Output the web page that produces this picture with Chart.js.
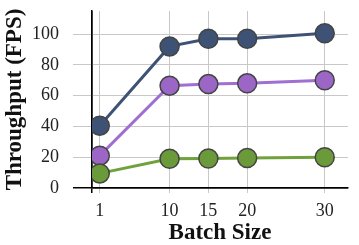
<!DOCTYPE html>
<html>
<head>
<meta charset="utf-8">
<script src="https://cdn.jsdelivr.net/npm/chart.js@4.4.0/dist/chart.umd.min.js"></script>
<style>
    html, body { margin: 0; padding: 0; background: #fff; }
    #wrap { width: 359px; height: 245px; }
</style>
</head>
<body>
<div id="wrap"><canvas id="myChart"></canvas></div>
<script>
// data
const batchSizes = [1, 10, 15, 20, 30];
const seriesTop = [40.5, 92, 97, 97, 100.5];
const seriesMid = [21, 66.5, 67.5, 68, 70];
const seriesLow = [9.5, 19, 19.2, 19.5, 20];
const xTicks = [0, 1, 10, 15, 20, 30]; // 0 only for the axis stub, no label
const yTicks = [0, 20, 40, 60, 80, 100];

const font = "'Liberation Serif', 'DejaVu Serif', serif";

function makeSet(values, fill, line) {
    return {
        data: values.map((v, i) => ({ x: batchSizes[i], y: v })),
        borderColor: line,
        backgroundColor: fill,
        borderWidth: 3,
        pointRadius: 9.5,
        pointBorderWidth: 1.5,
        pointBorderColor: '#444',
        pointBackgroundColor: fill,
        pointHoverRadius: 9.5
    };
}

const isZero = c => c.tick && c.tick.value === 0;

let myChart = new Chart(document.getElementById('myChart'), {
    type: 'line',
    data: {
        datasets: [
            makeSet(seriesLow, '#6b9a3a', '#6fa23c'),
            makeSet(seriesMid, '#9b66c6', '#a06fd2'),
            makeSet(seriesTop, '#3e5275', '#3e5275')
        ]
    },
    options: {
        responsive: true,
        maintainAspectRatio: false,
        animation: false,
        layout: { padding: 0 },
        plugins: { legend: { display: false }, tooltip: { enabled: false } },
        scales: {
            x: {
                type: 'linear',
                min: 0,
                max: 33,
                afterBuildTicks: scale => { scale.ticks = xTicks.map(v => ({ value: v })); },
                afterFit: scale => { scale.height = 57; scale.paddingLeft = 0; scale.paddingRight = 0; },
                grid: {
                    color: c => isZero(c) ? '#000' : '#c8c8c8',
                    lineWidth: c => isZero(c) ? 1.5 : 1,
                    tickLength: 5
                },
                border: { display: true, color: '#000', width: 1.5 },
                ticks: {
                    color: '#222', font: { family: font, size: 18 }, padding: 7, maxRotation: 0,
                    callback: v => v === 0 ? '' : v
                },
                title: { display: true, text: 'Batch Size', color: '#111', font: { family: font, size: 23, weight: 'bold' }, padding: { top: 0, bottom: -2 } }
            },
            y: {
                min: 0,
                max: 115,
                afterBuildTicks: scale => { scale.ticks = yTicks.map(v => ({ value: v })); },
                afterFit: scale => { scale.width = 92; scale.paddingTop = 0; scale.paddingBottom = 0; },
                grid: {
                    color: c => isZero(c) ? '#000' : '#c8c8c8',
                    lineWidth: c => isZero(c) ? 1.5 : 1,
                    tickLength: 19
                },
                border: { display: true, color: '#000', width: 1.5 },
                ticks: { color: '#222', font: { family: font, size: 18 }, padding: 14 },
                title: { display: true, text: 'Throughput (FPS)', color: '#111', font: { family: font, size: 23, weight: 'bold' }, padding: { top: 1, bottom: 0 } }
            }
        }
    }
});
</script>
</body>
</html>
